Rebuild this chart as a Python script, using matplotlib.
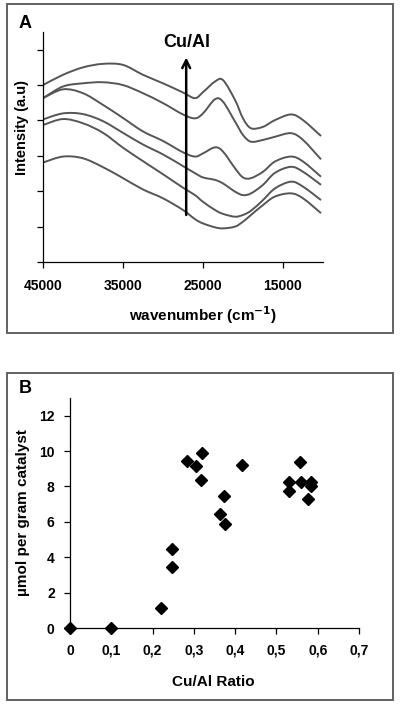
import matplotlib
matplotlib.use("Agg")
import matplotlib.pyplot as plt
from matplotlib.patches import Rectangle, PathPatch
from matplotlib.path import Path

plt.rcParams['font.family'] = ['Liberation Sans', 'DejaVu Sans']

# ---- Panel A data: spectra (wavenumber, intensity a.u.) ----
wavenumber = [45000, 42500, 40000, 37500, 35000, 32500, 30000, 27500, 26000, 25000,
              23500, 22500, 21000, 20000, 19000, 17500, 16000, 14000, 12500, 10250]
spec1 = [5.00, 5.29, 5.50, 5.60, 5.57, 5.29, 5.05, 4.79, 4.63, 4.80,
         5.10, 5.14, 4.58, 4.06, 3.78, 3.82, 4.01, 4.17, 4.01, 3.56]
spec2 = [4.63, 4.96, 5.05, 5.08, 5.00, 4.77, 4.49, 4.17, 4.06, 4.20,
         4.60, 4.53, 3.97, 3.59, 3.40, 3.45, 3.54, 3.64, 3.45, 2.90]
spec3 = [4.63, 4.88, 4.77, 4.44, 4.07, 3.69, 3.42, 3.10, 2.98, 3.07,
         3.24, 3.12, 2.65, 2.39, 2.37, 2.55, 2.84, 2.98, 2.84, 2.41]
spec4 = [4.03, 4.20, 4.18, 3.98, 3.65, 3.32, 3.04, 2.71, 2.51, 2.39,
         2.32, 2.22, 1.99, 1.89, 1.94, 2.18, 2.52, 2.69, 2.55, 2.18]
spec5 = [3.87, 4.04, 3.92, 3.65, 3.23, 2.85, 2.48, 2.10, 1.89, 1.70,
         1.47, 1.36, 1.28, 1.33, 1.45, 1.75, 2.08, 2.27, 2.13, 1.75]
spec6 = [2.81, 2.98, 2.93, 2.68, 2.37, 2.05, 1.80, 1.47, 1.21, 1.09,
         0.98, 0.95, 1.00, 1.14, 1.33, 1.61, 1.85, 1.94, 1.80, 1.38]
spectra = [spec1, spec2, spec3, spec4, spec5, spec6]
xticks_A = [45000, 35000, 25000, 15000]
yticks_A = [0, 1, 2, 3, 4, 5, 6]

# ---- Panel B data: scatter ----
cu_al_ratio = [0.0, 0.1, 0.22, 0.246, 0.246, 0.284, 0.305, 0.319, 0.317, 0.363,
               0.373, 0.376, 0.416, 0.530, 0.530, 0.557, 0.559, 0.583, 0.583, 0.576]
umol_per_g = [0.0, 0.0, 1.15, 4.45, 3.45, 9.46, 9.14, 9.88, 8.39, 6.46,
              7.45, 5.90, 9.22, 8.23, 7.72, 9.41, 8.24, 8.24, 8.00, 7.27]
xticks_B = [0, 0.1, 0.2, 0.3, 0.4, 0.5, 0.6, 0.7]
xticklabels_B = ['0', '0,1', '0,2', '0,3', '0,4', '0,5', '0,6', '0,7']
yticks_B = [0, 2, 4, 6, 8, 10, 12]

W, H = 400, 706
fig = plt.figure(figsize=(W / 100, H / 100), dpi=100)

def fx(px):
    return px / W

def fy(py):
    return 1 - py / H

def smooth_path(xs, ys):
    """Smooth (Catmull-Rom style) Bezier path through the given data points."""
    pts = list(zip(xs, ys))
    n = len(pts)
    verts = [pts[0]]
    codes = [Path.MOVETO]
    for i in range(n - 1):
        p0 = pts[i - 1] if i > 0 else pts[i]
        p1 = pts[i]
        p2 = pts[i + 1]
        p3 = pts[i + 2] if i + 2 < n else pts[i + 1]
        c1 = (p1[0] + (p2[0] - p0[0]) / 6, p1[1] + (p2[1] - p0[1]) / 6)
        c2 = (p2[0] - (p3[0] - p1[0]) / 6, p2[1] - (p3[1] - p1[1]) / 6)
        verts += [c1, c2, p2]
        codes += [Path.CURVE4] * 3
    return Path(verts, codes)

# panel frames
for (x0, y0, x1, y1) in [(7, 4, 393, 333), (7, 373, 393, 700)]:
    fig.patches.append(Rectangle((fx(x0), fy(y1)), fx(x1) - fx(x0), fy(y0) - fy(y1),
                                 transform=fig.transFigure, fill=False,
                                 edgecolor='#555555', linewidth=1.3))

# ---- Panel A ----
axA = fig.add_axes([fx(43), fy(262), fx(323) - fx(43), fy(32) - fy(262)])
for s in spectra:
    axA.add_patch(PathPatch(smooth_path(wavenumber, s), facecolor='none',
                            edgecolor='#555555', linewidth=1.4))
axA.set_xlim(45000, 10000)
axA.set_ylim(0, 6.5)
axA.set_xticks(xticks_A)
axA.set_xticklabels([str(v) for v in xticks_A], fontweight='bold', fontsize=10)
axA.set_yticks(yticks_A)
axA.set_yticklabels([])
for sp in ['top', 'right']:
    axA.spines[sp].set_visible(False)
for sp in ['left', 'bottom']:
    axA.spines[sp].set_linewidth(0.9)
axA.tick_params(axis='both', direction='out', length=4, width=0.9, pad=8.5)
axA.annotate('', xy=(27100, 5.78), xytext=(27100, 1.33),
             arrowprops=dict(arrowstyle='->', color='black', lw=1.8,
                             mutation_scale=14, shrinkA=0, shrinkB=0))
axA.text(27000, 6.2, 'Cu/Al', ha='center', va='center', fontweight='bold', fontsize=13)
axA.set_xlabel('wavenumber (cm$^{\\mathbf{-1}}$)', fontweight='bold', fontsize=11, va='center')
axA.xaxis.set_label_coords(0.571, -0.23)
axA.set_ylabel('Intensity (a.u)', fontweight='bold', fontsize=10.5, va='center')
axA.yaxis.set_label_coords(-0.075, 0.583)
fig.text(fx(25), fy(23), 'A', ha='center', va='center', fontweight='bold', fontsize=13)

# ---- Panel B ----
axB = fig.add_axes([fx(70), fy(628), fx(359) - fx(70), fy(398) - fy(628)])
axB.plot(cu_al_ratio, umol_per_g, linestyle='none', marker='D', markersize=5.7,
         color='black', clip_on=False)
axB.set_xlim(0, 0.7)
axB.set_ylim(0, 13)
axB.set_xticks(xticks_B)
axB.set_xticklabels(xticklabels_B, fontweight='bold', fontsize=10)
axB.set_yticks(yticks_B)
axB.set_yticklabels([str(v) for v in yticks_B], fontweight='bold', fontsize=10)
for sp in ['top', 'right']:
    axB.spines[sp].set_visible(False)
for sp in ['left', 'bottom']:
    axB.spines[sp].set_linewidth(0.9)
axB.tick_params(axis='x', direction='out', length=4, width=0.9, pad=7.5)
axB.tick_params(axis='y', direction='out', length=4, width=0.9, pad=7)
axB.set_xlabel('Cu/Al Ratio', fontweight='bold', fontsize=11, va='center')
axB.xaxis.set_label_coords(0.495, -0.235)
axB.set_ylabel('µmol per gram catalyst', fontweight='bold', fontsize=11, va='center')
axB.yaxis.set_label_coords(-0.163, 0.5)
fig.text(fx(25), fy(388), 'B', ha='center', va='center', fontweight='bold', fontsize=13)

fig.savefig('out.png', dpi=100)
